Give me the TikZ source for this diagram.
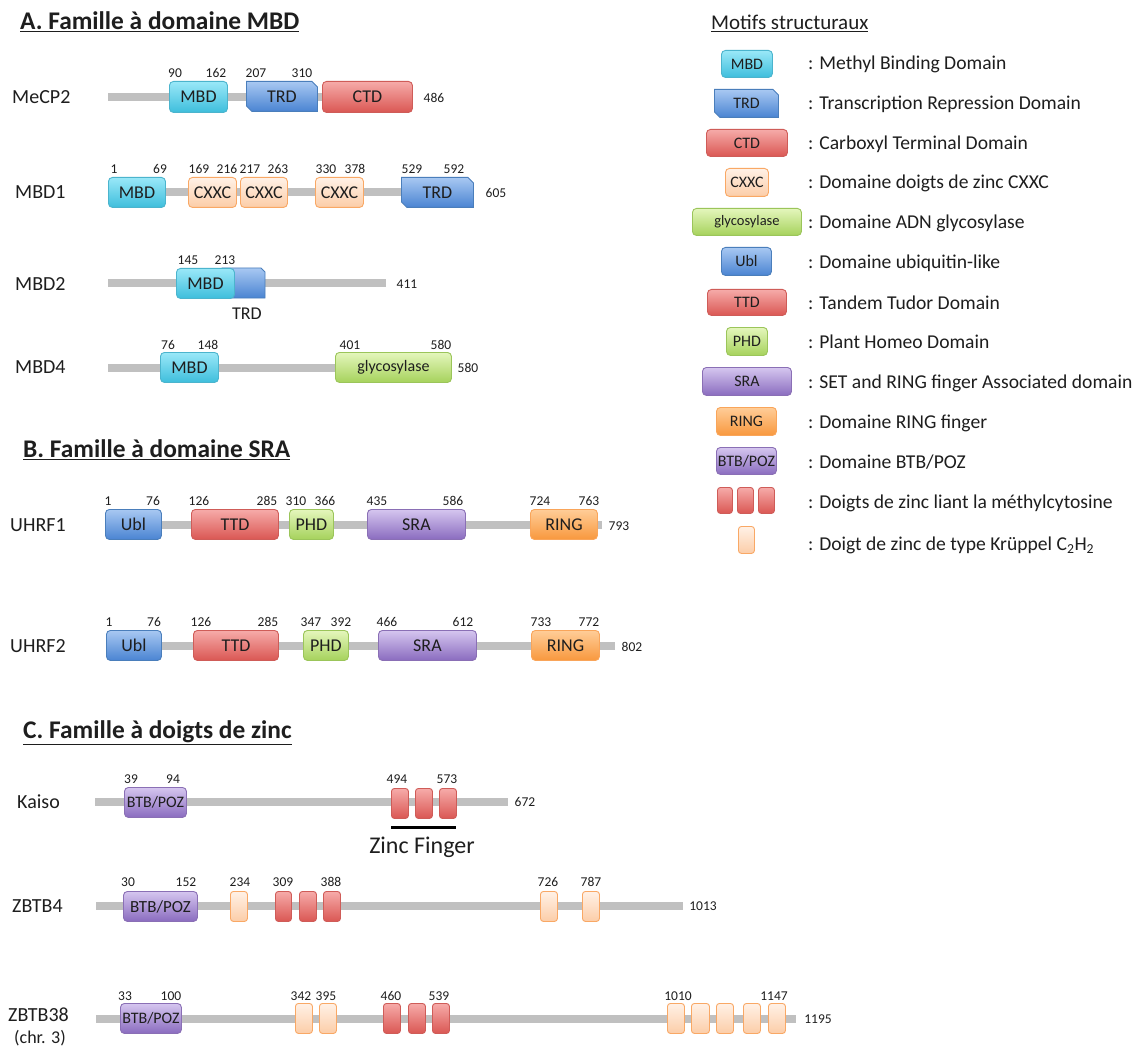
\documentclass[tikz,border=0pt]{standalone}
\usepackage{fontspec}
\setmainfont{Carlito}
\usetikzlibrary{shapes.misc}
\definecolor{txt}{HTML}{1E1E1E}
\definecolor{barC}{HTML}{C0C0C0}
\definecolor{mbdT}{HTML}{9AE8F8}\definecolor{mbdB}{HTML}{3EBEDC}\definecolor{mbdD}{HTML}{4BB4CD}
\definecolor{bluT}{HTML}{A8C8F2}\definecolor{bluB}{HTML}{4A84D2}\definecolor{bluD}{HTML}{4A7EBB}
\definecolor{redT}{HTML}{F6ABA9}\definecolor{redB}{HTML}{DA5753}\definecolor{redD}{HTML}{CF5C58}
\definecolor{lorT}{HTML}{FFF1E6}\definecolor{lorB}{HTML}{FCCDA8}\definecolor{lorD}{HTML}{F9A865}
\definecolor{grnT}{HTML}{E4F6BC}\definecolor{grnB}{HTML}{A6D25C}\definecolor{grnD}{HTML}{9BC55A}
\definecolor{purT}{HTML}{D5C6EF}\definecolor{purB}{HTML}{8A6CBF}\definecolor{purD}{HTML}{8A6FB5}
\definecolor{ornT}{HTML}{FFCD98}\definecolor{ornB}{HTML}{F8983E}\definecolor{ornD}{HTML}{F9A55A}
\newcommand\fs[1]{\fontsize{#1}{#1}\selectfont}
\newcommand\dbox[7]{\node[#2, minimum width={#5-#3}, minimum height={#6-#4}] (#1) at (#3,#4) {#7};}
\tikzset{
  every node/.style={text=txt},
  dom/.style={draw, line width=0.9pt, rounded corners=4pt, inner sep=0pt, anchor=north west, font=\fs{18}},
  mbdS/.style={dom, top color=mbdT, bottom color=mbdB, draw=mbdD},
  bluS/.style={dom, top color=bluT, bottom color=bluB, draw=bluD},
  redS/.style={dom, top color=redT, bottom color=redB, draw=redD},
  lorS/.style={dom, top color=lorT, bottom color=lorB, draw=lorD},
  grnS/.style={dom, top color=grnT, bottom color=grnB, draw=grnD},
  purS/.style={dom, top color=purT, bottom color=purB, draw=purD},
  ornS/.style={dom, top color=ornT, bottom color=ornB, draw=ornD},
  finS/.style={redS, rounded corners=3pt},
  krS/.style={lorS, rounded corners=3pt},
  trdS/.style={chamfered rectangle, chamfered rectangle corners={north east,south west},
    chamfered rectangle xsep=2.5pt, chamfered rectangle ysep=3pt, draw=bluD, line width=0.9pt,
    top color=bluT, bottom color=bluB, inner sep=0pt, anchor=north west, font=\fs{18}},
  trdP/.style={draw=bluD, line width=0.9pt, top color=bluT, bottom color=bluB},
  bar/.style={draw=barC, line width=8pt},
  num/.style={font=\fs{13.5}, inner sep=0pt},
  pname/.style={font=\fs{20}, anchor=west, inner sep=0pt},
  ttl/.style={font=\fs{25.4}\bfseries, anchor=west, inner sep=0pt},
  leg/.style={font=\fs{19.6}, anchor=base west, inner sep=0pt},
}
\begin{document}
\begin{tikzpicture}[x=1pt,y=-1pt]
\useasboundingbox[fill=white] (0,0) rectangle (1139,1048);

% ===== A =====
\node[ttl] (tA) at (20,22) {\underline{A. Famille à domaine MBD}};

% MeCP2
\node[pname] (lMeCP2) at (12,97) {MeCP2};
\coordinate (b1s) at (108,97); \coordinate (b1e) at (412,97);
\draw[bar] (b1s) -- (b1e);
\dbox{a1}{mbdS}{169}{81}{227}{112}{MBD}
\dbox{a2}{trdS}{246}{81}{317}{111}{TRD}
\dbox{a3}{redS}{322}{81}{412}{112}{CTD}
\node[num] (n11) at (175,73) {90};
\node[num] (n12) at (216,73) {162};
\node[num] (n13) at (256,73) {207};
\node[num] (n14) at (302,73) {310};
\node[num] (e1) at (434,98) {486};

% MBD1
\node[pname] (lMBD1) at (15,192) {MBD1};
\coordinate (b2s) at (108,192); \coordinate (b2e) at (470,192);
\draw[bar] (b2s) -- (b2e);
\dbox{b1}{mbdS}{108}{177}{165}{207}{MBD}
\dbox{b2}{lorS}{188}{177}{236}{207}{CXXC}
\dbox{b3}{lorS}{240}{177}{287}{207}{CXXC}
\dbox{b4}{lorS}{315}{177}{363}{207}{CXXC}
\dbox{b5}{trdS}{401}{177}{473}{207}{TRD}
\node[num] (n21) at (114,169) {1};
\node[num] (n22) at (160,169) {69};
\node[num] (n23) at (199,169) {169};
\node[num] (n24) at (227,169) {216};
\node[num] (n25) at (250,169) {217};
\node[num] (n26) at (278,169) {263};
\node[num] (n27) at (326,169) {330};
\node[num] (n28) at (355,169) {378};
\node[num] (n29) at (412,169) {529};
\node[num] (n2a) at (454,169) {592};
\node[num] (e2) at (496,193) {605};

% MBD2
\node[pname] (lMBD2) at (15,284) {MBD2};
\coordinate (b3s) at (108,283); \coordinate (b3e) at (386,283);
\draw[bar] (b3s) -- (b3e);
\coordinate (c2) at (243,283);
\path[trdP] (222,268) -- (261,268) -- (265,272) -- (265,298) -- (222,298) -- cycle;
\dbox{c1}{mbdS}{176}{268}{234}{298}{MBD}
\node[font=\fs{18}, inner sep=0pt] (c3) at (247,314) {TRD};
\node[num] (n31) at (188,260) {145};
\node[num] (n32) at (225,260) {213};
\node[num] (e3) at (407,284) {411};

% MBD4
\node[pname] (lMBD4) at (15,367) {MBD4};
\coordinate (b4s) at (108,368); \coordinate (b4e) at (452,368);
\draw[bar] (b4s) -- (b4e);
\dbox{d1}{mbdS}{160}{352}{218}{382}{MBD}
\dbox{d2}{grnS}{335}{352}{451}{382}{\fs{16}glycosylase}
\node[num] (n41) at (168,345) {76};
\node[num] (n42) at (208,345) {148};
\node[num] (n43) at (350,345) {401};
\node[num] (n44) at (441,345) {580};
\node[num] (e4) at (468,368) {580};

% ===== B =====
\node[ttl] (tB) at (23,450) {\underline{B. Famille à domaine SRA}};

% UHRF1
\node[pname] (lU1) at (10,525) {UHRF1};
\coordinate (b5s) at (105,525); \coordinate (b5e) at (602,525);
\draw[bar] (b5s) -- (b5e);
\dbox{u11}{bluS}{105}{509}{161}{539}{Ubl}
\dbox{u12}{redS}{191}{509}{278}{539}{TTD}
\dbox{u13}{grnS}{289}{509}{333}{539}{PHD}
\dbox{u14}{purS}{367}{509}{465}{539}{SRA}
\dbox{u15}{ornS}{530}{509}{597}{539}{RING}
\node[num] (n51) at (108,501) {1};
\node[num] (n52) at (153,501) {76};
\node[num] (n53) at (199,501) {126};
\node[num] (n54) at (267,501) {285};
\node[num] (n55) at (296,501) {310};
\node[num] (n56) at (325,501) {366};
\node[num] (n57) at (377,501) {435};
\node[num] (n58) at (453,501) {586};
\node[num] (n59) at (540,501) {724};
\node[num] (n5a) at (589,501) {763};
\node[num] (e5) at (619,526) {793};

% UHRF2
\node[pname] (lU2) at (10,646) {UHRF2};
\coordinate (b6s) at (106,646); \coordinate (b6e) at (615,646);
\draw[bar] (b6s) -- (b6e);
\dbox{u21}{bluS}{106}{630}{161}{660}{Ubl}
\dbox{u22}{redS}{193}{630}{278}{660}{TTD}
\dbox{u23}{grnS}{303}{630}{348}{660}{PHD}
\dbox{u24}{purS}{378}{630}{476}{660}{SRA}
\dbox{u25}{ornS}{531}{630}{599}{660}{RING}
\node[num] (n61) at (109,622) {1};
\node[num] (n62) at (154,622) {76};
\node[num] (n63) at (201,622) {126};
\node[num] (n64) at (268,622) {285};
\node[num] (n65) at (311,622) {347};
\node[num] (n66) at (341,622) {392};
\node[num] (n67) at (387,622) {466};
\node[num] (n68) at (463,622) {612};
\node[num] (n69) at (541,622) {733};
\node[num] (n6a) at (589,622) {772};
\node[num] (e6) at (632,647) {802};

% ===== C =====
\node[ttl] (tC) at (23,733) {\underline{C. Famille à doigts de zinc}};

% Kaiso
\node[pname] (lK) at (17,802) {Kaiso};
\coordinate (b7s) at (95,802); \coordinate (b7e) at (508,802);
\draw[bar] (b7s) -- (b7e);
\dbox{k1}{purS}{124}{787}{186}{817}{\fs{16}BTB/POZ}
\dbox{k2}{finS}{391}{788}{408}{818}{}
\dbox{k3}{finS}{415}{788}{432}{818}{}
\dbox{k4}{finS}{439}{788}{456}{818}{}
\node[num] (n71) at (131,779) {39};
\node[num] (n72) at (173,779) {94};
\node[num] (n73) at (397,779) {494};
\node[num] (n74) at (447,779) {573};
\node[num] (e7) at (525,802) {672};
\coordinate (zfs) at (391,827); \coordinate (zfe) at (456,827);
\draw[line width=3pt, black] (zfs) -- (zfe);
\node[font=\fs{24}, inner sep=0pt] (zf) at (422,847) {Zinc Finger};

% ZBTB4
\node[pname] (lZ4) at (12,906) {ZBTB4};
\coordinate (b8s) at (96,906); \coordinate (b8e) at (683,906);
\draw[bar] (b8s) -- (b8e);
\dbox{z41}{purS}{123}{891}{197}{921}{\fs{17}BTB/POZ}
\dbox{z42}{krS}{230}{891}{247}{921}{}
\dbox{z43}{finS}{275}{891}{291}{921}{}
\dbox{z44}{finS}{299}{891}{316}{921}{}
\dbox{z45}{finS}{323}{891}{340}{921}{}
\dbox{z46}{krS}{540}{891}{557}{921}{}
\dbox{z47}{krS}{582}{891}{599}{921}{}
\node[num] (n81) at (128,882) {30};
\node[num] (n82) at (186,882) {152};
\node[num] (n83) at (240,882) {234};
\node[num] (n84) at (283,882) {309};
\node[num] (n85) at (331,882) {388};
\node[num] (n86) at (548,882) {726};
\node[num] (n87) at (591,882) {787};
\node[num] (e8) at (703,906) {1013};

% ZBTB38
\node[pname] (lZ38) at (8,1015) {ZBTB38};
\node[font=\fs{18}, inner sep=0pt] (lZ38b) at (40,1038) {(chr. 3)};
\coordinate (b9s) at (96,1019); \coordinate (b9e) at (796,1019);
\draw[bar] (b9s) -- (b9e);
\dbox{z81}{purS}{120}{1003}{181}{1033}{\fs{16}BTB/POZ}
\dbox{z82}{krS}{295}{1003}{312}{1033}{}
\dbox{z83}{krS}{319}{1003}{336}{1033}{}
\dbox{z84}{finS}{383}{1003}{400}{1033}{}
\dbox{z85}{finS}{408}{1003}{425}{1033}{}
\dbox{z86}{finS}{432}{1003}{449}{1033}{}
\dbox{z87}{krS}{667}{1003}{684}{1033}{}
\dbox{z88}{krS}{691}{1003}{709}{1033}{}
\dbox{z89}{krS}{716}{1003}{733}{1033}{}
\dbox{z8a}{krS}{743}{1003}{760}{1033}{}
\dbox{z8b}{krS}{768}{1003}{785}{1033}{}
\node[num] (n91) at (125,996) {33};
\node[num] (n92) at (171,996) {100};
\node[num] (n93) at (301,996) {342};
\node[num] (n94) at (326,996) {395};
\node[num] (n95) at (391,996) {460};
\node[num] (n96) at (439,996) {539};
\node[num] (n97) at (678,996) {1010};
\node[num] (n98) at (774,996) {1147};
\node[num] (e9) at (818,1019) {1195};

% ===== Legend =====
\node[font=\fs{21}, anchor=base west, inner sep=0pt] (tL) at (711,30) {\underline{Motifs structuraux}};
\dbox{L1}{mbdS}{721}{50}{772}{77}{\fs{16}MBD}
\dbox{L2}{trdS}{714}{89}{778}{117}{\fs{16}TRD}
\dbox{L3}{redS}{706}{129}{787}{156}{\fs{16}CTD}
\dbox{L4}{lorS}{725}{168}{768}{196}{\fs{16}CXXC}
\dbox{L5}{grnS}{692}{208}{801}{235}{\fs{14.5}glycosylase}
\dbox{L6}{bluS}{721}{247}{771}{275}{\fs{16}Ubl}
\dbox{L7}{redS}{707}{289}{786}{315}{\fs{16}TTD}
\dbox{L8}{grnS}{726}{327}{767}{355}{\fs{16}PHD}
\dbox{L9}{purS}{702}{367}{791}{395}{\fs{16}SRA}
\dbox{La}{ornS}{716}{407}{776}{435}{\fs{16}RING}
\dbox{Lb}{purS}{716}{447}{776}{474}{\fs{16}BTB/POZ}
\dbox{Lc}{finS}{717}{487}{732}{513}{}
\dbox{Ld}{finS}{737}{487}{753}{513}{}
\dbox{Le}{finS}{758}{487}{774}{513}{}
\dbox{Lf}{krS}{738}{526}{754}{553}{}
\node[leg] (T1) at (808,70) {: Methyl Binding Domain};
\node[leg] (T2) at (808,110) {: Transcription Repression Domain};
\node[leg] (T3) at (808,150) {: Carboxyl Terminal Domain};
\node[leg] (T4) at (808,189) {: Domaine doigts de zinc CXXC};
\node[leg] (T5) at (808,229) {: Domaine ADN glycosylase};
\node[leg] (T6) at (808,269) {: Domaine ubiquitin-like};
\node[leg] (T7) at (808,309) {: Tandem Tudor Domain};
\node[leg] (T8) at (808,348) {: Plant Homeo Domain};
\node[leg] (T9) at (808,388) {: SET and RING finger Associated domain};
\node[leg] (Ta) at (808,428) {: Domaine RING finger};
\node[leg] (Tb) at (808,468) {: Domaine BTB/POZ};
\node[leg] (Tc) at (808,508) {: Doigts de zinc liant la méthylcytosine};
\node[leg] (Td) at (808,550) {: Doigt de zinc de type Krüppel C\textsubscript{2}H\textsubscript{2}};
\end{tikzpicture}
\end{document}
